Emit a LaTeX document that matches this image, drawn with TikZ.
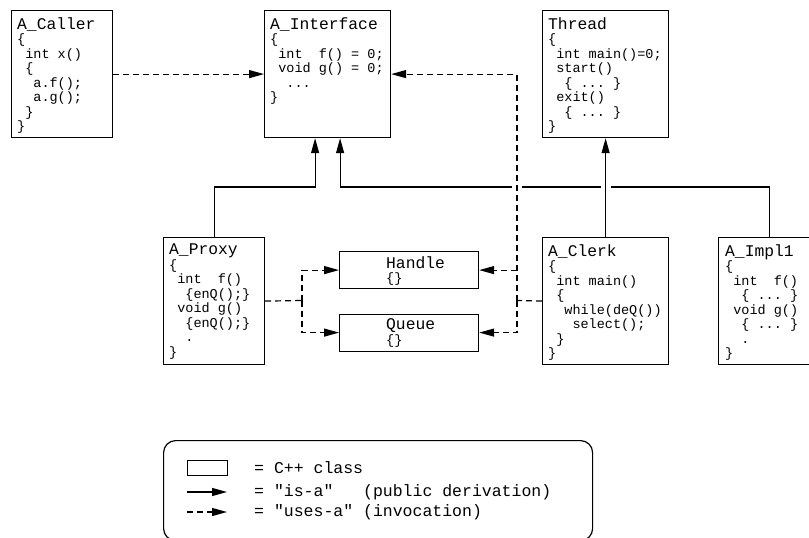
\documentclass[tikz,border=0pt]{standalone}
\usepackage{fontspec}
\setmonofont{Liberation Mono}
\usetikzlibrary{arrows.meta,positioning}
\newcommand{\csp}{\hspace*{0.6em}}
\newcommand{\clsname}[1]{{\fontsize{16.3}{14.5}\selectfont #1}}

\begin{document}
\begin{tikzpicture}[
    x=1pt, y=-1pt,
    clsbox/.style={rectangle, draw, line width=1.2pt, anchor=north west, minimum width=126pt, minimum height=127pt, inner sep=0pt},
    objbox/.style={clsbox, minimum width=139pt, minimum height=37pt},
    legbox/.style={clsbox, rounded corners=12pt, minimum width=429pt, minimum height=100pt},
    code/.style={anchor=north west, align=left, inner sep=0pt, font=\ttfamily\fontsize{13.5}{14.5}\selectfont},
    legtext/.style={anchor=west, inner sep=0pt, font=\ttfamily\fontsize{16.5}{18}\selectfont},
    isa/.style={-{Triangle[length=15pt,width=8pt]}, line width=1.2pt},
    usesline/.style={line width=1.2pt, dash pattern=on 6pt off 4pt},
    uses/.style={usesline, -{Triangle[length=15pt,width=8pt]}},
    gap/.style={draw=white, line width=10pt}
]
    \clip (0,0) rectangle (809,538);

    % Top row
    \node[clsbox, minimum width=101pt] (caller) at (11,10) {};
    \node[code] (callercode) at ([shift={(6,7)}]caller.north west) {\clsname{A\_Caller}\\
        \{\\
        \csp int x()\\
        \csp\{\\
        \csp\csp a.f();\\
        \csp\csp a.g();\\
        \csp\}\\
        \}};

    \node[clsbox] (iface) at (264,10) {};
    \node[code] (ifacecode) at ([shift={(6,7)}]iface.north west) {\clsname{A\_Interface}\\
        \{\\
        \csp int\csp\csp f() = 0;\\
        \csp void g() = 0;\\
        \csp\csp ...\\
        \}};

    \node[clsbox] (thread) at (542,10) {};
    \node[code] (threadcode) at ([shift={(6,7)}]thread.north west) {\clsname{Thread}\\
        \{\\
        \csp int main()=0;\\
        \csp start()\\
        \csp\csp\{ ... \}\\
        \csp exit()\\
        \csp\csp\{ ... \}\\
        \}};

    % Middle row
    \node[clsbox, minimum width=101pt] (proxy) at (163,237) {};
    \node[code] (proxycode) at ([shift={(6,7)}]proxy.north west) {\clsname{A\_Proxy}\\
        \{\\
        \csp int\csp\csp f()\\
        \csp\csp\{enQ();\}\\
        \csp void g()\\
        \csp\csp\{enQ();\}\\
        \csp\csp .\\
        \}};

    \node[objbox] (handle) at (339,251) {};
    \node[code] (handlecode) at ([shift={(47,5)}]handle.north west) {\clsname{Handle}\\ \{\}};
    \node[objbox] (queue) at (339,313.5) {};
    \node[code] (queuecode) at ([shift={(47,5)}]queue.north west) {\clsname{Queue}\\ \{\}};

    \node[clsbox] (clerk) at (542,237) {};
    \node[code] (clerkcode) at ([shift={(6,7)}]clerk.north west) {\clsname{A\_Clerk}\\
        \{\\
        \csp int main()\\
        \csp\{\\
        \csp\csp while(deQ())\\
        \csp\csp\csp select();\\
        \csp\}\\
        \}};

    \node[clsbox, minimum width=101pt] (impl) at (718,237) {};
    \node[code] (implcode) at ([shift={(7,7)}]impl.north west) {\clsname{A\_Impl1}\\
        \{\\
        \csp int\csp\csp f()\\
        \csp\csp\{ ... \}\\
        \csp void g()\\
        \csp\csp\{ ... \}\\
        \csp\csp .\\
        \}};

    % Junctions of the dashed lines
    \coordinate (pjoin) at (302,300.5);
    \coordinate (cjoin) at (517,300.5);

    % is-a
    \draw[isa] (proxy.north) -- ++(0,-50) -| ([xshift=-12.5]iface.south);
    \draw[isa] (impl.north) -- ++(0,-50) -| ([xshift=12.5]iface.south);
    \draw[gap, shorten <=40pt, shorten >=40pt] (clerk.north) -- (thread.south);
    \draw[gap, shorten <=103.5pt, shorten >=103.5pt] (cjoin) -- (cjoin |- iface.east);
    \draw[isa] (clerk.north) -- (thread.south);

    % uses-a
    \draw[uses] (caller.east) -- (iface.west);
    \draw[usesline] (proxy.east) -- (pjoin);
    \draw[uses] (pjoin) |- (handle.west);
    \draw[uses] (pjoin) |- (queue.west);
    \draw[uses] (cjoin) |- (iface.east);
    \draw[uses] (cjoin) |- (handle.east);
    \draw[uses] (cjoin) |- (queue.east);
    \draw[usesline] (clerk.west) -- (cjoin);

    % Legend
    \node[legbox] (legend) at (163,440) {};
    \node[clsbox, minimum width=40pt, minimum height=15pt] (legcls) at (187,460) {};
    \node[legtext] (legclstext) at (254,467.5) {= C++ class};
    \coordinate (isafrom) at (187,492);
    \coordinate (isato) at (227,492);
    \draw[isa] (isafrom) -- (isato);
    \node[legtext] (isatext) at (254,492) {= "is-a"\csp\csp\csp(public derivation)};
    \coordinate (usesfrom) at (187,512);
    \coordinate (usesto) at (227,512);
    \draw[uses] (usesfrom) -- (usesto);
    \node[legtext] (usestext) at (254,512) {= "uses-a" (invocation)};
\end{tikzpicture}
\end{document}
